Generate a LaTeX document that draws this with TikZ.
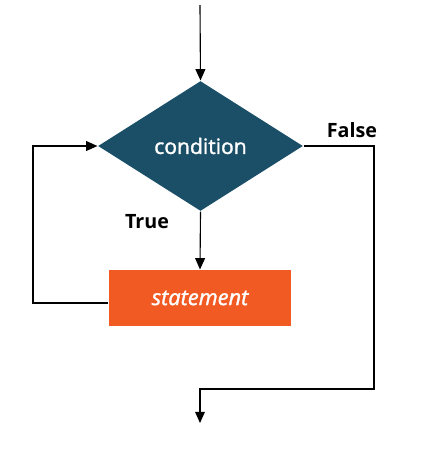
\documentclass[tikz,border=0pt]{standalone}
\usepackage{fontspec}
\setmainfont{Open Sans}
\newfontfamily\semib{Open Sans}[FakeBold=1.5]
\usetikzlibrary{shapes.geometric,arrows.meta,positioning}
\definecolor{teal}{HTML}{1B4F67}
\definecolor{orng}{HTML}{F15A22}

\begin{document}
\begin{tikzpicture}[x=0.025cm,y=-0.025cm,line width=0.8pt,
  cond/.style = {diamond, fill=teal, text=white, inner sep=0pt, aspect=1.58, minimum width=5.125cm, minimum height=3.25cm, font=\fontsize{15}{17}\semib},
  stmt/.style = {rectangle, fill=orng, text=white, inner sep=0pt, minimum width=4.55cm, minimum height=1.4cm, font=\fontsize{15.5}{17}\semib\itshape},
  lbl/.style = {font=\fontsize{14}{16}\selectfont\bfseries},
  arr/.style = {-{Triangle[length=8pt,width=7pt]}}]
\useasboundingbox (0,0) rectangle (441,450);
\node (c) [cond] at (200.5,146) {condition};
\node (s) [stmt] at (200,298) {statement};
\node (t) at (147,222) [lbl] {True};
\node (f) at (352,130) [lbl] {False};

\coordinate (in) at (200,5);
\coordinate (l1) at (33,303);
\coordinate (l2) at (33,146);
\coordinate (r1) at (374,146);
\coordinate (r2) at (374,389);
\coordinate (r3) at (200,389);
\coordinate (out) at (200,423);

\draw [arr] (in) -- (c.north);
\draw [arr] (c.south) -- (s.north);
\draw [arr] (s.west |- l1) -- (l1) -- (l2) -- (c.west);
\draw [arr] (c.east) -- (r1) -- (r2) -- (r3) -- (out);
\end{tikzpicture}
\end{document}
